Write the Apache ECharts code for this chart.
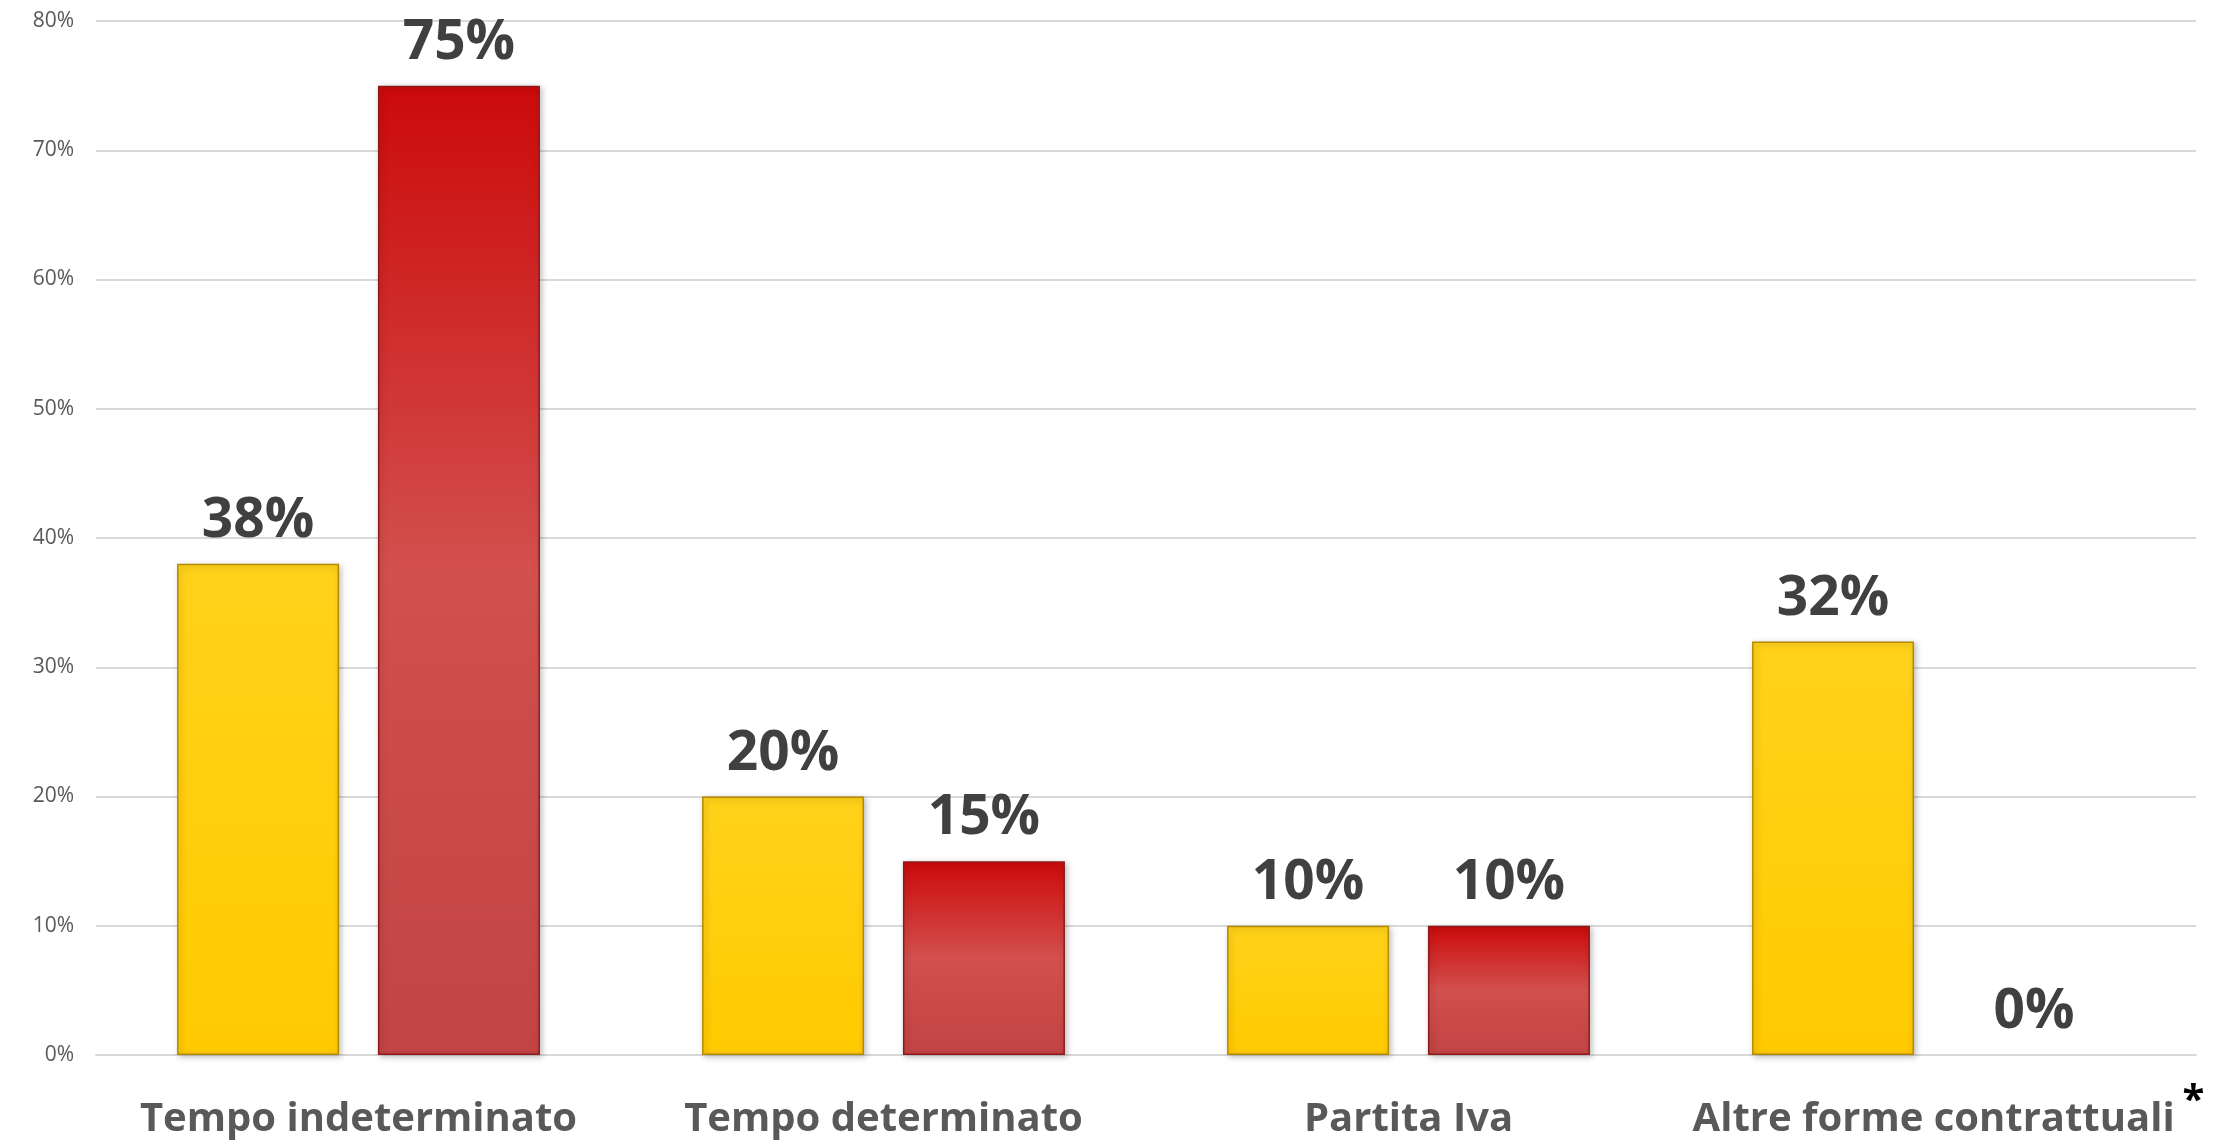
<!DOCTYPE html>
<html>
<head>
<meta charset="utf-8">
<script src="https://cdn.jsdelivr.net/npm/echarts@6/dist/echarts.min.js"></script>
<style>
html,body{margin:0;padding:0;background:#fff;}
#chart{width:2214px;height:1141px;}
</style>
</head>
<body>
<div id="chart"></div>
<script>
const categories = ['Tempo indeterminato', 'Tempo determinato', 'Partita Iva', 'Altre forme contrattuali'];
const seriesYellow = [38, 20, 10, 32];
const seriesRed = [75, 15, 10, 0];
const yTicks = { min: 0, max: 80, interval: 10 };
const footnoteCategory = 'Altre forme contrattuali';

const chart = echarts.init(document.getElementById('chart'), null, { renderer: 'canvas' });

const labelStyle = {
  show: true,
  position: 'top',
  distance: 15,
  formatter: '{c}%',
  fontFamily: 'Open Sans',
  fontWeight: 'bold',
  fontSize: 55,
  color: '#404040'
};

const noMarkStyle = { color: 'rgba(0,0,0,0)', borderWidth: 0, shadowBlur: 0, shadowOffsetX: 0, shadowOffsetY: 0, shadowColor: 'rgba(0,0,0,0)' };

const option = {
  backgroundColor: '#ffffff',
  animation: false,
  grid: { left: 96, right: 18, top: 21, bottom: 86, containLabel: false, outerBoundsMode: 'none' },
  xAxis: {
    type: 'category',
    data: categories,
    axisTick: { show: false },
    axisLine: { lineStyle: { color: '#D9D9D9', width: 2 } },
    axisLabel: {
      margin: 27,
      interval: 0,
      fontFamily: 'Open Sans',
      fontWeight: 'bold',
      fontSize: 40,
      lineHeight: 76,
      color: '#595959',
      formatter: function (v) {
        return v === footnoteCategory ? '{pad| }' + v + '{star|*}' : v;
      },
      rich: {
        pad: {
          fontFamily: 'Open Sans',
          fontSize: 40,
          lineHeight: 76,
          width: 30
        },
        star: {
          fontFamily: 'Open Sans',
          fontWeight: 'bold',
          fontSize: 40,
          lineHeight: 40,
          color: '#000000',
          padding: [0, 0, 36, 8]
        }
      }
    }
  },
  yAxis: {
    type: 'value',
    min: yTicks.min,
    max: yTicks.max,
    interval: yTicks.interval,
    axisLine: { show: false },
    axisTick: { show: false },
    splitLine: { lineStyle: { color: '#D9D9D9', width: 2 } },
    axisLabel: {
      margin: 22,
      formatter: '{value}%',
      fontFamily: 'Open Sans',
      fontSize: 21,
      color: '#595959'
    }
  },
  series: [
    {
      type: 'bar',
      data: seriesYellow,
      barWidth: 162,
      barGap: '24%',
      itemStyle: {
        color: new echarts.graphic.LinearGradient(0, 0, 0, 1, [
          { offset: 0, color: '#FFD21A' },
          { offset: 1, color: '#FFCA00' }
        ]),
        borderColor: '#B58A00',
        borderWidth: 1.5,
        shadowBlur: 6,
        shadowOffsetX: 2,
        shadowOffsetY: 2,
        shadowColor: 'rgba(0,0,0,0.25)'
      },
      label: labelStyle
    },
    {
      type: 'bar',
      data: seriesRed.map(function (v) {
        return v === 0 ? { value: v, itemStyle: noMarkStyle } : v;
      }),
      barWidth: 162,
      itemStyle: {
        color: new echarts.graphic.LinearGradient(0, 0, 0, 1, [
          { offset: 0, color: '#CC0A0A' },
          { offset: 0.5, color: '#D2504E' },
          { offset: 1, color: '#C24444' }
        ]),
        borderColor: '#8E1A1A',
        borderWidth: 1.5,
        shadowBlur: 6,
        shadowOffsetX: 2,
        shadowOffsetY: 2,
        shadowColor: 'rgba(0,0,0,0.25)'
      },
      label: labelStyle
    }
  ]
};

chart.setOption(option);
</script>
</body>
</html>
